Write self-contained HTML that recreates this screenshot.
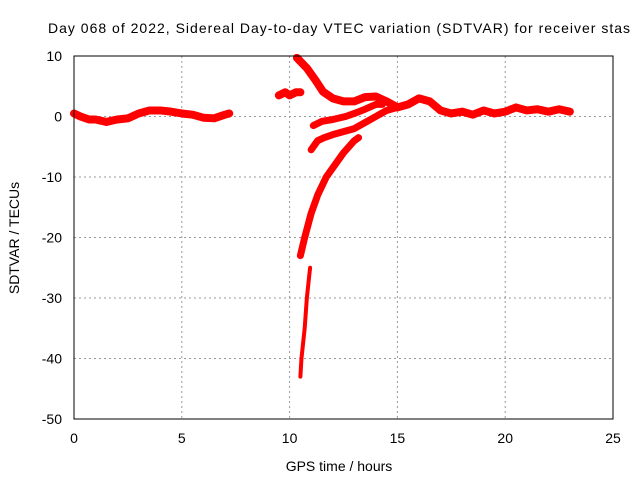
<!DOCTYPE html>
<html><head><meta charset="utf-8"><style>
body{margin:0;background:#fff;width:640px;height:480px;overflow:hidden}
svg text{font-family:"Liberation Sans",sans-serif;font-size:14px;fill:#000}
</style></head><body>
<svg id="chart" width="640" height="480">
<text x="48" y="33" textLength="582" lengthAdjust="spacing">Day 068 of 2022, Sidereal Day-to-day VTEC variation (SDTVAR) for receiver stas</text>
<text x="339" y="471" text-anchor="middle">GPS time / hours</text>
<text transform="translate(19,238) rotate(-90)" text-anchor="middle">SDTVAR / TECUs</text>
<g id="grid"></g><g id="series"></g>
<rect x="74" y="56" width="539" height="363" fill="none" stroke="#000" stroke-width="1"/>
</svg>
<script>
const xTicks=[0,5,10,15,20,25];
const yTicks=[10,0,-10,-20,-30,-40,-50];
const segA=[[0,0.5],[0.3,0],[0.7,-0.5],[1,-0.5],[1.5,-0.9],[2,-0.5],[2.5,-0.3],[3,0.5],[3.5,1],[4,1],[4.5,0.8],[5,0.5],[5.5,0.3],[6,-0.2],[6.5,-0.3],[7,0.3],[7.2,0.5]];
const segB=[[9.5,3.5],[9.8,4],[10,3.5],[10.3,4],[10.5,4]];
const segC=[[10.34,9.7],[10.8,8],[11.2,6],[11.55,4.1],[12,3],[12.5,2.5],[13,2.5],[13.5,3.2],[14,3.3],[14.5,2.5],[15,1.5],[15.5,2],[16,3],[16.5,2.5],[17,1],[17.5,0.5],[18,0.8],[18.5,0.3],[19,1],[19.5,0.5],[20,0.8],[20.5,1.5],[21,1],[21.5,1.2],[22,0.8],[22.5,1.2],[23,0.8]];
const segD=[[11.1,-1.5],[11.5,-0.8],[12,-0.5],[12.6,0],[13,0.5],[13.5,1.2],[14,2],[14.3,2]];
const segE=[[11,-5.5],[11.3,-4],[11.6,-3.5],[12,-3],[12.5,-2.5],[13,-2],[13.5,-1],[14,0],[14.5,1],[15,1.5]];
const segF=[[10.5,-23],[10.7,-20],[11,-16],[11.3,-13],[11.7,-10],[12,-8.5],[12.5,-6],[13,-4],[13.2,-3.5]];
const segG=[[10.5,-43],[10.55,-40],[10.7,-35],[10.8,-30],[10.95,-25]];
const X=h=>74+h*539/25, Y=v=>56+(10-v)*363/60;
const NS='http://www.w3.org/2000/svg';
const grid=document.getElementById('grid'), ser=document.getElementById('series');
xTicks.forEach(t=>{
 if(t>0&&t<25){const l=document.createElementNS(NS,'line');
 
 
 l.setAttribute('x1',X(t));l.setAttribute('x2',X(t));l.setAttribute('y1',56);l.setAttribute('y2',419);
 l.setAttribute('stroke','#999');l.setAttribute('stroke-dasharray','2,3');grid.appendChild(l);}
 const tx=document.createElementNS(NS,'text');
 
 
 tx.setAttribute('x',X(t));tx.setAttribute('y',443);tx.setAttribute('text-anchor','middle');tx.textContent=t;grid.appendChild(tx);
});
yTicks.forEach(t=>{
 if(t<10&&t>-50){const l=document.createElementNS(NS,'line');
 
 
 l.setAttribute('x1',74);l.setAttribute('x2',613);l.setAttribute('y1',Y(t));l.setAttribute('y2',Y(t));
 l.setAttribute('stroke','#999');l.setAttribute('stroke-dasharray','2,3');grid.appendChild(l);}
 const tx=document.createElementNS(NS,'text');
 
 
 tx.setAttribute('x',62);tx.setAttribute('y',Y(t)+5);tx.setAttribute('text-anchor','end');tx.textContent=t;grid.appendChild(tx);
});
[[segA,8],[segB,8],[segC,8],[segD,7],[segE,7],[segF,7],[segG,4]].forEach(([s,w])=>{
 const p=document.createElementNS(NS,'polyline');
 
 
 p.setAttribute('points',s.map(d=>X(d[0])+','+Y(d[1])).join(' '));
 p.setAttribute('fill','none');p.setAttribute('stroke','#f00');p.setAttribute('stroke-width',w);
 p.setAttribute('stroke-linejoin','round');p.setAttribute('stroke-linecap','round');ser.appendChild(p);
});
</script>
</body></html>
